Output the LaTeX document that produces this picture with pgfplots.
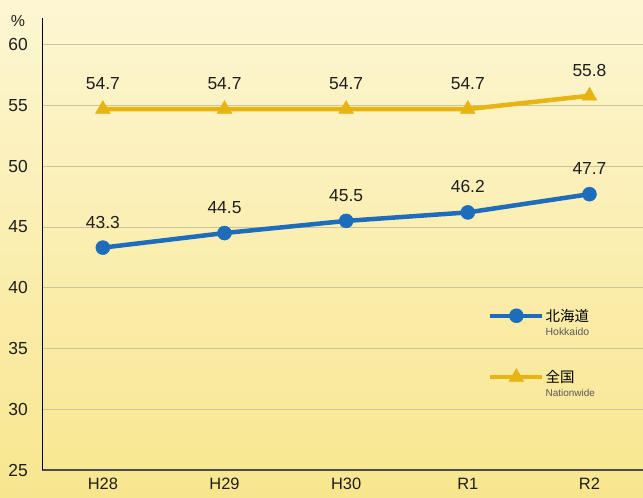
\documentclass[border=0pt]{standalone}
\usepackage{fontspec}
\setmainfont{Liberation Sans}
\newfontfamily\cjk{Noto Sans CJK JP}
\usepackage{pgfplots}
\pgfplotsset{compat=1.18}
\definecolor{bgtop}{RGB}{253,246,210}
\definecolor{bgbot}{RGB}{248,230,142}
\definecolor{hblue}{RGB}{30,108,188}
\definecolor{ngold}{RGB}{231,180,18}
\definecolor{gridc}{RGB}{205,195,155}
\definecolor{txt}{RGB}{30,30,30}
\begin{document}
\begin{tikzpicture}
\path[use as bounding box, top color=bgtop, bottom color=bgbot] (0bp,0bp) rectangle (643bp,498bp);
\begin{axis}[
  at={(42bp,28bp)}, anchor=south west,
  width=601bp, height=452bp, scale only axis,
  xmin=-0.5, xmax=4.44, ymin=25, ymax=62.2,
  xtick={0,1,2,3,4}, xticklabels={H28,H29,H30,R1,R2},
  ytick={25,30,...,60},
  axis x line=bottom, axis y line=left,
  x axis line style={-, draw=black!70, line width=1.8bp},
  y axis line style={-, draw=black, line width=0.9bp},
  ymajorgrids, grid style={gridc, line width=0.8bp},
  major tick length=0pt,
  tick label style={font=\fontsize{17.5}{20}\selectfont, text=txt},
  xticklabel style={font=\fontsize{16.5}{20}\selectfont},
  /pgf/number format/assume math mode=true,
  xticklabel style={anchor=north, inner sep=0pt, yshift=-8bp},
  yticklabel style={anchor=east, inner sep=0pt, xshift=-14bp},
  clip=false,
  point meta=y,
  nodes near coords={\pgfmathprintnumber[fixed,fixed zerofill,precision=1]{\pgfplotspointmeta}},
  nodes near coords style={font=\fontsize{17.5}{20}\selectfont, text=txt, anchor=south, inner sep=0pt, yshift=19bp},
  legend image code/.code={\draw[#1, mark=none] (0bp,0bp) -- (52bp,0bp); \draw[#1] plot coordinates {(26bp,0bp)};},
  legend style={at={(rel axis cs:0.742,0.359)}, anchor=north west, draw=none, fill=none, inner sep=0pt, row sep=45bp, column sep=0bp, nodes={inner sep=1bp}},
  legend cell align=left,
]
\addplot[hblue, line width=4.5bp, mark=*, mark size=7bp, mark options={solid, line width=0.5bp}] coordinates {
  (0,43.3) (1,44.5) (2,45.5) (3,46.2) (4,47.7)};
\addlegendentry{\rlap{\smash{\raisebox{-14bp}{\fontsize{10.5}{12}\selectfont\color{black!65}Hokkaido}}}{\cjk\fontsize{14.5}{16}\selectfont 北海道}}
\addplot[ngold, line width=4.5bp, mark=triangle*, mark size=8.5bp, mark options={solid, line width=0.5bp}] coordinates {
  (0,54.7) (1,54.7) (2,54.7) (3,54.7) (4,55.8)};
\addlegendentry{\rlap{\smash{\raisebox{-14bp}{\fontsize{10}{12}\selectfont\color{black!65}Nationwide}}}{\cjk\fontsize{14.5}{16}\selectfont 全国}}
\node[font=\fontsize{16}{18}\selectfont, text=txt, inner sep=0pt] at (rel axis cs:-0.04,0.993) {\%};
\end{axis}
\end{tikzpicture}
\end{document}
